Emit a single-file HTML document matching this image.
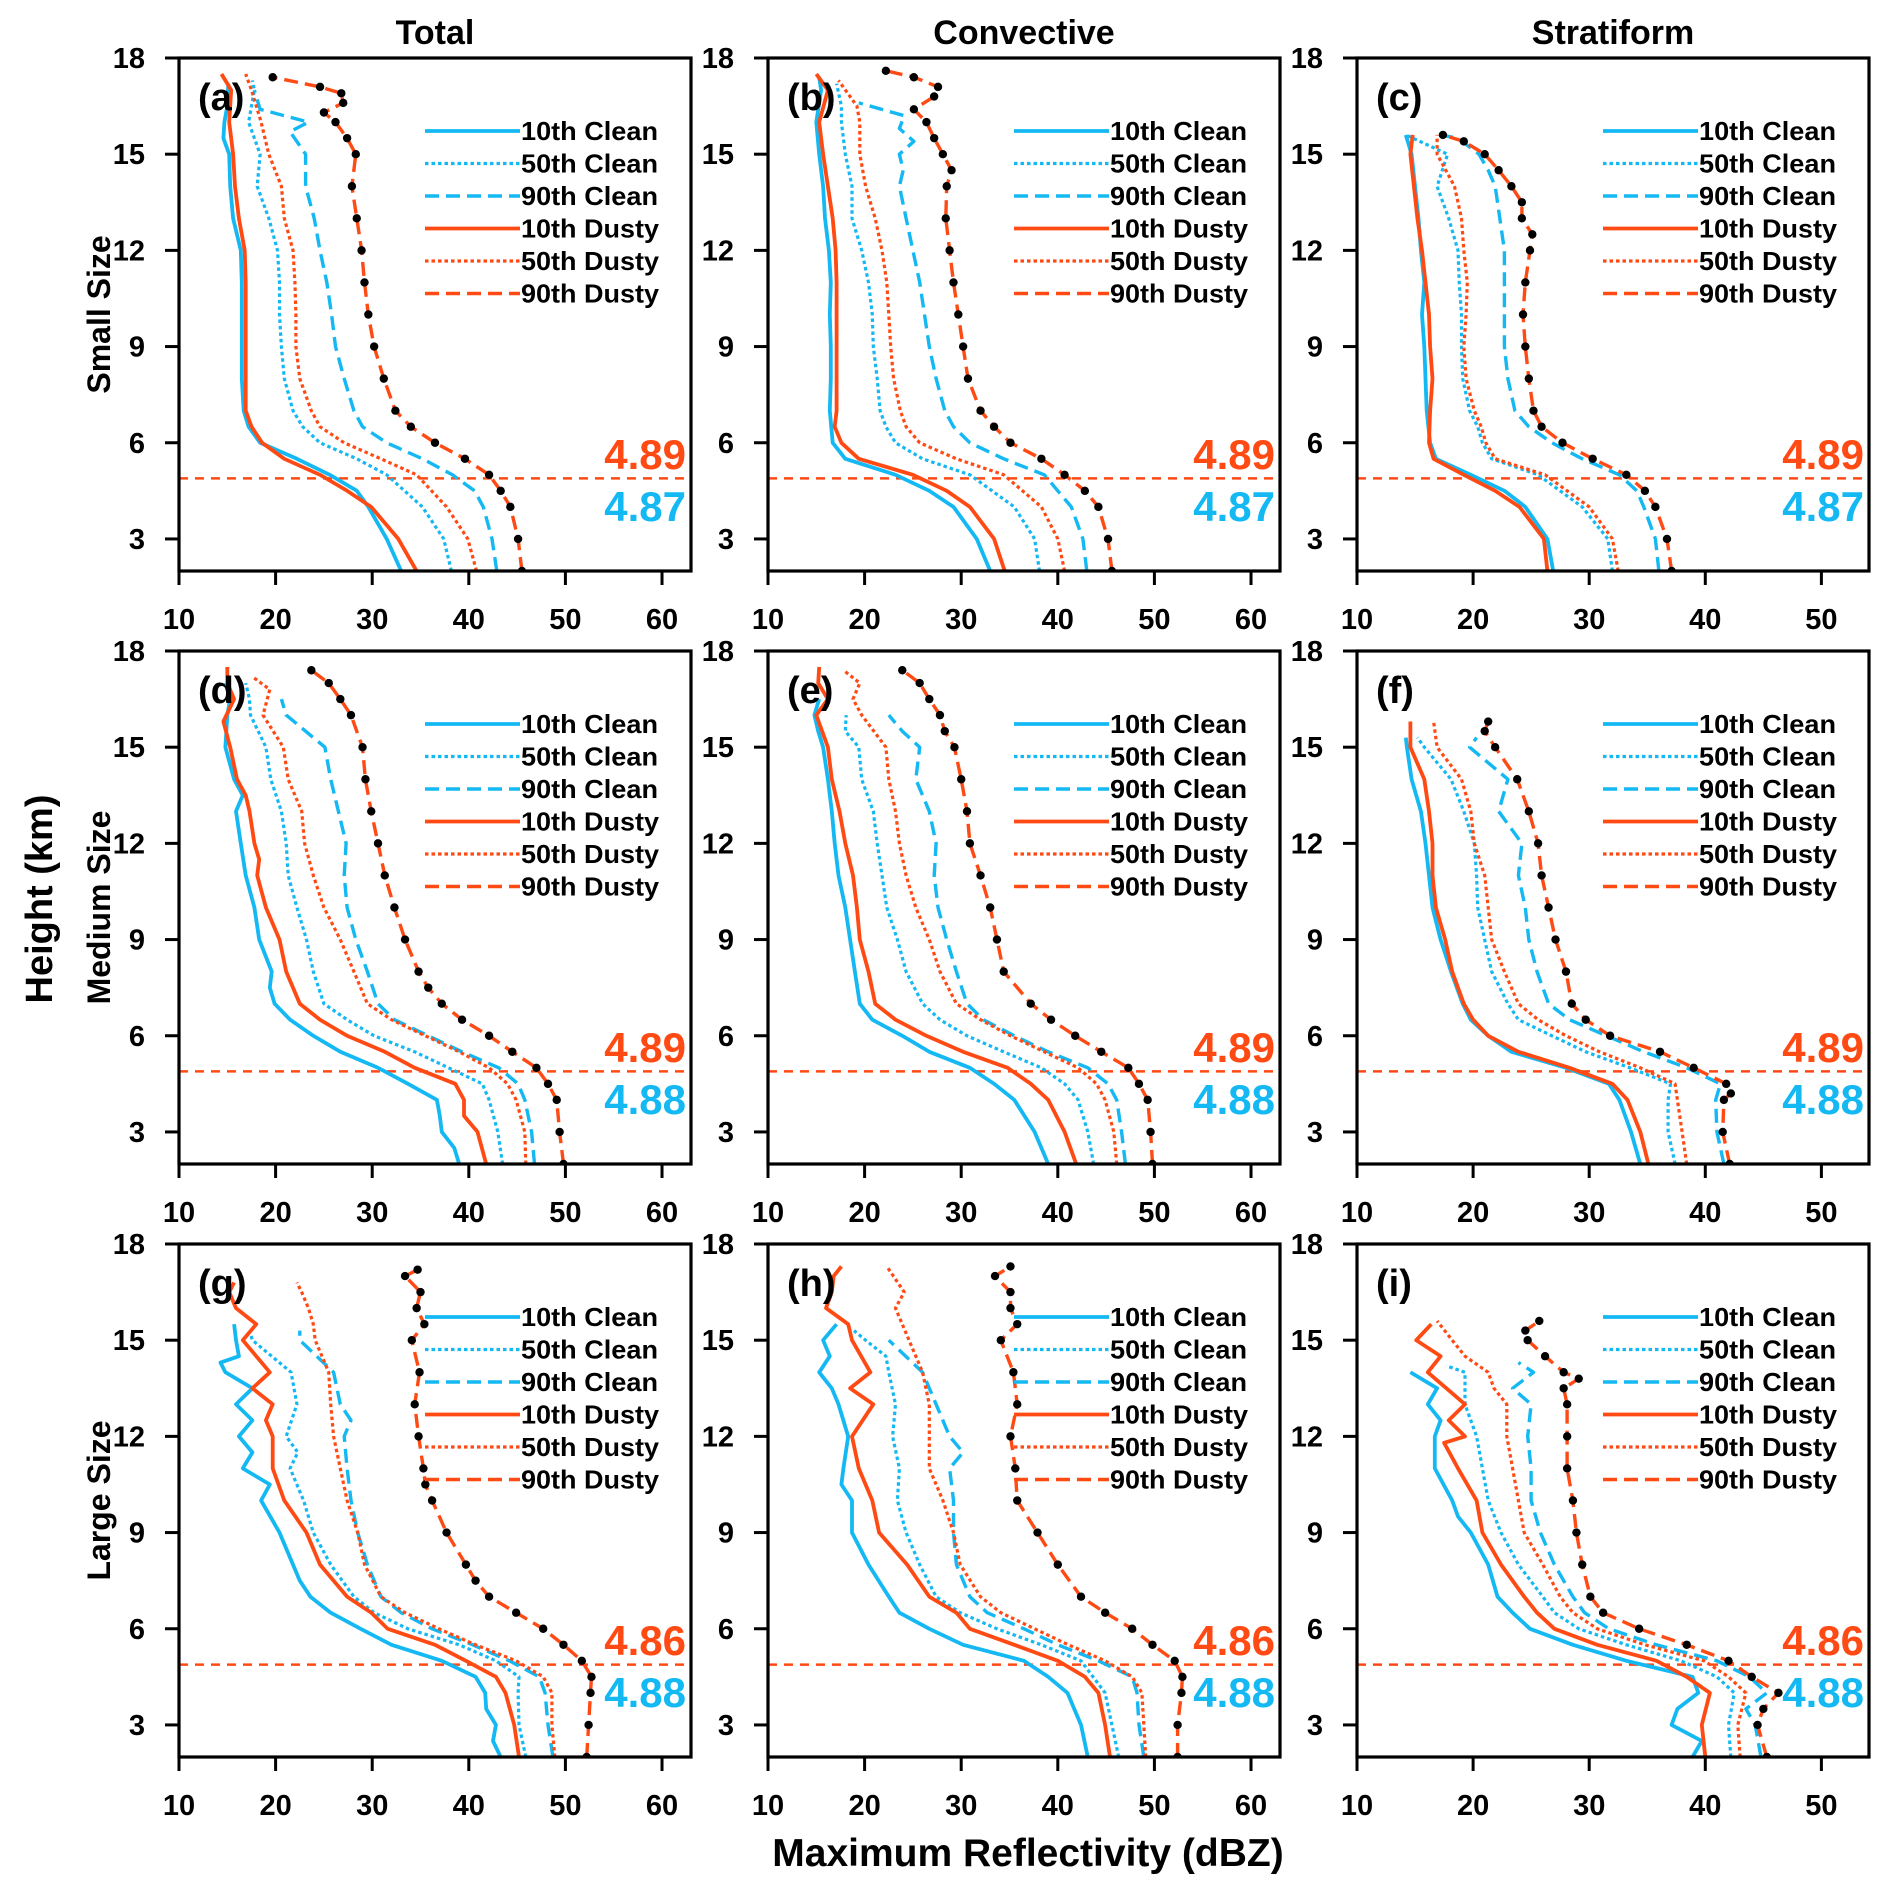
<!DOCTYPE html>
<html><head><meta charset="utf-8"><style>
html,body{margin:0;padding:0;background:#fff;}
svg{display:block;}
text{font-family:"Liberation Sans",Arial,sans-serif;font-weight:bold;}
</style></head><body>
<svg id="fig" width="1892" height="1893" viewBox="0 0 1892 1893" xmlns="http://www.w3.org/2000/svg"></svg>
<script>
// ---- data: [height km, dBZ] pairs per series ----
const a_c10=[[2,33.0],[3,31.5],[4,29.6],[4.5,28.4],[5,25.6],[5.5,22.2],[6,18.4],[6.5,17.2],[7,16.7],[8,16.5],[9,16.5],[10,16.5],[11,16.5],[12,16.4],[13,15.6],[14,15.3],[15,15.2],[15.5,14.6],[16,14.7],[16.5,15],[17.2,15.1]];
const a_d10=[[2,34.6],[3,32.7],[4,29.9],[4.5,27.4],[5,24.6],[5.5,20.9],[6,18.6],[6.5,17.5],[7,16.9],[8,16.9],[9,16.9],[10,16.9],[11,16.9],[12,16.8],[13,16.2],[14,15.8],[15,15.6],[16,15.2],[17,15.4],[17.5,14.4]];
const a_c50=[[2,38.2],[3,37.4],[4,35.2],[5,31.5],[5.5,28.4],[6,24.6],[6.5,22.8],[7,21.8],[8,20.9],[9,20.6],[10,20.4],[11,20.4],[12,20.2],[13,19.3],[14,18.1],[15,18.4],[16,17.2],[17,17.8],[17.3,17.6]];
const a_d50=[[2,40.8],[3,39.9],[4,37.7],[5,34.6],[5.5,30.9],[6,27.1],[6.5,24.6],[7,23.7],[8,22.5],[9,22.1],[10,22.1],[11,22.0],[12,21.8],[13,20.9],[14,20.6],[15,19.3],[16,18.5],[17,17.5],[17.5,16.9]];
const a_c90=[[2,42.9],[3,42.4],[4,41.5],[4.5,40.6],[5,38.3],[5.5,35.2],[6,31.5],[6.5,29.0],[7,28.1],[8,27.1],[9,26.2],[10,25.8],[11,25.3],[12,24.6],[13,24.0],[14,23.1],[15,23.1],[15.7,21.5],[16,23.4],[16.4,18.4],[17,17.8]];
const a_d90=[[2,45.5],[3,45.1],[4,44.3],[4.5,43.3],[5,42.1],[5.5,39.6],[6,36.5],[6.5,34.0],[7,32.4],[8,31.2],[9,30.2],[10,29.6],[11,29.2],[12,28.9],[13,28.4],[14,27.9],[15,28.3],[15.5,27.4],[16,26.2],[16.3,25.0],[16.6,27.0],[16.9,26.8],[17.1,24.6],[17.4,19.7]];

const b_c10=[[2,33.0],[3,31.6],[4,29.2],[4.5,26.7],[5,23.2],[5.5,18.0],[6,16.7],[7,16.4],[8,16.5],[9,16.5],[10,16.4],[11,16.5],[12,16.3],[13,15.9],[14,15.7],[15,15.3],[16,15.0],[17,15.5],[17.4,15.3]];
const b_d10=[[2,34.5],[3,33.4],[4,30.9],[4.5,28.5],[5,25.0],[5.5,19.4],[6,17.6],[6.5,16.9],[7,17.1],[8,17.1],[9,17.1],[10,17.1],[11,17.1],[12,17.0],[13,16.7],[14,16.2],[15,15.7],[16,15.3],[17,16.2],[17.5,15.0]];
const b_c50=[[2,38.1],[3,37.6],[4,35.5],[5,30.9],[5.5,26.0],[6,23.2],[6.5,22.2],[7,21.6],[8,21.3],[9,20.9],[10,20.8],[11,20.4],[12,19.7],[13,18.7],[14,18.7],[15,18.0],[16,17.6],[16.5,17.6],[17.2,17.1]];
const b_d50=[[2,40.7],[3,40.0],[4,38.3],[5,34.4],[5.5,29.5],[6,25.7],[6.5,24.3],[7,23.7],[8,23.0],[9,22.7],[10,22.5],[11,22.3],[12,21.8],[13,21.1],[14,20.1],[15,19.5],[16,19.5],[16.5,19.2],[17.3,17.3]];
const b_c90=[[2,43.0],[3,42.6],[4,41.4],[5,38.6],[5.5,34.4],[6,30.9],[6.5,29.2],[7,28.3],[8,27.4],[9,26.7],[10,26.2],[11,25.7],[12,25.0],[13,24.3],[14,23.6],[14.5,24.0],[15,23.6],[15.4,25.1],[15.8,23.6],[16.2,24.1],[16.6,19.4]];
const b_d90=[[2,45.6],[3,45.2],[4,44.2],[4.5,42.8],[5,40.7],[5.5,38.3],[6,35.1],[6.5,33.4],[7,32.0],[8,30.7],[9,30.2],[10,29.7],[11,29.2],[12,28.8],[13,28.4],[14,28.5],[14.5,29.0],[15,28.1],[15.5,27.2],[16,26.4],[16.4,25.1],[16.8,27.2],[17.1,27.6],[17.4,25.1],[17.6,22.2]];

const c_c10=[[2,26.9],[3,26.4],[4,24.5],[4.5,22.7],[5,19.8],[5.5,16.8],[6,16.3],[7,16.0],[8,15.9],[9,15.8],[10,15.6],[11,15.8],[12,15.5],[13,15.3],[14,15.0],[15,14.7],[15.6,14.2]];
const c_d10=[[2,26.4],[3,26.1],[4,24.0],[4.5,21.9],[5,19.2],[5.5,16.6],[6,16.2],[7,16.3],[8,16.5],[9,16.3],[10,16.2],[11,15.9],[12,15.6],[13,15.2],[14,14.9],[15,14.6],[15.6,14.8]];
const c_c50=[[2,32.0],[3,31.6],[4,29.4],[5,25.6],[5.5,21.6],[6,20.8],[6.5,20.4],[7,19.7],[8,19.1],[9,19.0],[10,19.0],[11,18.8],[12,18.7],[13,17.9],[14,16.9],[15,17.8],[15.6,14.2]];
const c_d50=[[2,32.5],[3,32.0],[4,30.0],[5,26.2],[5.5,21.9],[6,21.1],[6.5,20.7],[7,20.1],[8,19.4],[9,19.2],[10,19.4],[11,19.5],[12,19.2],[13,19.0],[14,18.4],[15,16.9],[15.6,16.9]];
const c_c90=[[2,36.0],[3,35.7],[4,34.7],[4.5,34.1],[5,32.6],[5.5,29.4],[6,26.8],[6.5,24.8],[7,23.6],[8,23.0],[9,22.7],[10,22.7],[11,22.7],[12,22.7],[13,22.3],[14,21.9],[14.5,21.3],[15,20.5],[15.5,18.7],[15.6,17.2]];
const c_d90=[[2,37.1],[3,36.7],[4,35.7],[4.5,34.8],[5,33.2],[5.5,30.3],[6,27.7],[6.5,25.9],[7,25.2],[8,24.8],[9,24.5],[10,24.3],[11,24.5],[12,24.9],[12.5,25.1],[13,24.2],[13.5,24.2],[14,23.3],[14.5,22.2],[15,21.0],[15.4,19.2],[15.6,17.4]];

const d_c10=[[2,39.0],[2.5,38.5],[3,37.2],[3.5,37.0],[4,36.7],[4.5,33.7],[5,30.6],[5.5,26.7],[6,23.9],[6.5,21.5],[7,19.9],[7.5,19.4],[8,19.6],[9,18.3],[10,17.8],[11,16.9],[12,16.4],[13,15.9],[13.5,16.6],[14,15.7],[15,14.8],[16,15.0],[16.5,15.3],[17,14.8]];
const d_d10=[[2,41.8],[3,40.9],[3.5,39.5],[4,39.5],[4.5,38.6],[5,34.4],[5.5,31.3],[6,27.4],[6.5,24.6],[7,22.5],[8,21.1],[9,20.4],[10,19.0],[11,18.1],[11.5,18.3],[12,17.8],[13,17.3],[13.5,16.9],[14,16.0],[15,15.3],[15.8,14.6],[16.5,15.7],[17,15.0],[17.5,15.0]];
const d_c50=[[2,43.5],[3,43.0],[4,42.1],[4.5,41.4],[5,37.9],[5.5,34.4],[6,30.2],[6.5,27.4],[7,25.0],[8,23.9],[9,23.2],[10,22.2],[11,21.3],[12,21.1],[13,20.6],[14,19.5],[15,19.0],[16,17.4],[16.5,17.3],[17,16.9]];
const d_d50=[[2,45.9],[3,45.8],[4,44.9],[4.5,44.0],[5,42.1],[5.5,39.0],[6,35.5],[6.5,32.0],[7,29.5],[8,28.1],[9,26.7],[10,25.0],[11,23.9],[12,23.0],[13,22.7],[14,21.3],[15,20.8],[16,18.7],[16.8,19.4],[17.2,17.6]];
const d_c90=[[2,46.8],[3,46.5],[4,45.8],[4.5,45.1],[5,43.1],[5.5,39.3],[6,35.8],[6.5,32.3],[7,30.6],[8,29.5],[9,28.3],[10,27.4],[11,27.1],[12,27.3],[13,26.5],[14,25.7],[15,25.1],[16,21.1],[16.5,20.6]];
const d_d90=[[2,49.8],[3,49.4],[4,49.1],[4.5,48.2],[5,47.0],[5.5,44.5],[6,42.1],[6.5,39.3],[7,37.2],[7.5,35.8],[8,34.8],[9,33.4],[10,32.3],[11,31.3],[12,30.6],[13,29.9],[14,29.3],[15,29.0],[16,27.8],[16.5,26.7],[17,25.5],[17.4,23.7]];

const e_c10=[[2,39.0],[3,37.6],[4,35.5],[4.5,33.4],[5,30.9],[5.5,26.7],[6,23.9],[6.5,20.8],[7,19.5],[8,19.0],[9,18.5],[10,18.0],[11,17.3],[12,16.9],[13,16.6],[14,16.2],[15,15.7],[15.5,15.2],[16,14.8],[16.5,15.3]];
const e_d10=[[2,41.9],[3,40.7],[4,39.0],[4.5,37.2],[5,34.8],[5.5,30.2],[6,26.4],[6.5,23.2],[7,21.1],[8,20.4],[9,19.5],[10,19.2],[11,18.8],[12,18.0],[13,17.4],[14,16.6],[15,16.2],[16,15.0],[16.5,16.2],[17,15.2],[17.5,15.3]];
const e_c50=[[2,43.7],[3,43.1],[4,42.1],[4.5,40.7],[5,38.3],[5.5,34.4],[6,30.6],[6.5,27.8],[7,26.0],[8,24.3],[9,23.4],[10,22.3],[11,21.8],[12,21.3],[13,20.9],[14,19.7],[15,19.4],[15.5,18.0],[16,18.1]];
const e_d50=[[2,46.1],[3,45.8],[4,44.9],[4.5,44.0],[5,42.1],[5.5,38.6],[6,35.1],[6.5,32.0],[7,29.5],[8,27.8],[9,26.7],[10,25.3],[11,24.3],[12,23.6],[13,23.2],[14,22.5],[15,22.2],[16,19.7],[16.5,18.8],[17,19.5],[17.4,17.8]];
const e_c90=[[2,47.0],[3,46.6],[4,46.1],[4.5,45.2],[5,43.1],[5.5,39.0],[6,35.5],[6.5,32.3],[7,30.6],[8,29.5],[9,28.5],[10,27.6],[11,27.2],[12,27.4],[13,26.7],[14,25.3],[15,25.7],[15.5,23.9],[16,22.5]];
const e_d90=[[2,49.8],[3,49.6],[4,49.3],[4.5,48.4],[5,47.3],[5.5,44.5],[6,41.8],[6.5,39.3],[7,37.2],[8,34.4],[9,33.7],[10,33.0],[11,32.0],[12,30.9],[13,30.6],[14,30.0],[15,29.3],[15.5,28.3],[16,27.8],[16.5,26.7],[17,25.7],[17.4,23.9]];

const f_c10=[[2,34.4],[3,33.6],[4,32.6],[4.5,31.7],[5,28.0],[5.5,23.3],[6,21.3],[6.5,19.8],[7,19.1],[8,18.1],[9,17.2],[10,16.5],[11,16.2],[12,15.9],[13,15.5],[14,14.7],[15,14.3],[15.3,14.2]];
const f_d10=[[2,35.1],[3,34.4],[4,33.3],[4.5,32.0],[5,28.3],[5.5,23.9],[6,21.3],[6.5,20.0],[7,19.2],[8,18.2],[9,17.6],[10,16.8],[11,16.5],[12,16.5],[13,16.2],[14,15.8],[15,14.6],[15.8,14.6]];
const f_c50=[[2,37.4],[3,36.8],[4,36.8],[4.5,37.0],[5,33.5],[5.5,29.7],[6,26.8],[6.5,23.9],[7,23.0],[8,21.6],[9,21.0],[10,20.4],[11,20.3],[12,20.1],[13,19.2],[14,18.1],[15,15.8],[15.3,15.2]];
const f_d50=[[2,38.4],[3,38.0],[4,37.6],[4.5,37.4],[5,34.4],[5.5,30.9],[6,28.0],[6.5,25.6],[7,23.9],[8,22.7],[9,21.6],[10,21.3],[11,21.0],[12,20.1],[13,19.8],[14,19.0],[15,16.9],[15.8,16.6]];
const f_c90=[[2,41.6],[3,41.0],[4,40.9],[4.5,41.3],[5,38.4],[5.5,34.7],[6,31.5],[6.5,28.3],[7,26.5],[8,25.5],[9,24.8],[10,24.5],[11,23.9],[12,24.2],[13,22.2],[14,23.0],[15,19.7],[15.3,20.3]];
const f_d90=[[2,42.1],[3,41.5],[4,41.6],[4.2,42.2],[4.5,41.8],[5,39.0],[5.5,36.1],[6,31.8],[6.5,29.7],[7,28.5],[8,28.0],[9,27.1],[10,26.5],[11,25.9],[12,25.6],[13,24.8],[14,23.8],[15,21.9],[15.5,21.0],[15.8,21.3]];

const g_c10=[[2,43.3],[2.5,42.5],[3,42.8],[3.5,41.8],[4,41.7],[4.5,40.7],[5,37.2],[5.5,32.0],[6,28.8],[6.5,25.7],[7,23.6],[7.5,22.5],[8,21.8],[9,20.4],[10,18.5],[10.5,19.4],[11,16.6],[11.5,17.6],[12,16.2],[12.5,17.6],[13,15.9],[13.5,17.6],[14,14.8],[14.3,14.3],[14.5,16.2],[15,15.9],[15.5,15.7]];
const g_d10=[[2,45.2],[3,44.7],[4,43.8],[4.5,42.8],[5,39.7],[5.5,36.5],[6,31.6],[6.5,29.9],[7,27.4],[8,24.6],[9,23.2],[10,20.9],[11,19.7],[12,19.7],[12.5,19.0],[13,19.7],[13.5,17.6],[14,19.4],[15,16.6],[15.5,18.0],[16,15.9],[16.5,15.2],[16.8,15.7]];
const g_c50=[[2,45.9],[3,45.2],[4,45.1],[4.5,45.2],[5,42.8],[5.5,39.0],[6,33.7],[6.5,30.2],[7,28.1],[8,25.7],[9,23.9],[10,22.9],[11,21.5],[11.5,22.3],[12,21.1],[13,22.2],[14,21.6],[15,17.6],[15.3,17.3]];
const g_d50=[[2,48.9],[3,48.6],[4,48.6],[4.5,47.7],[5,44.9],[5.5,40.7],[6,36.9],[6.5,33.4],[7,30.9],[8,29.2],[9,28.5],[10,27.4],[11,26.7],[12,26.0],[13,25.7],[14,25.5],[15,24.1],[15.5,23.9],[16,23.4],[16.5,22.7],[16.8,22.2]];
const g_c90=[[2,48.7],[3,48.2],[4,47.9],[4.5,47.3],[5,44.2],[5.5,40.4],[6,36.2],[6.5,33.0],[7,30.9],[8,29.5],[9,28.5],[10,27.8],[11,27.4],[12,27.1],[12.5,27.8],[13,26.7],[14,26.0],[15,22.5],[15.3,22.5]];
const g_d90=[[2,52.2],[3,52.4],[4,52.6],[4.5,52.7],[5,51.7],[5.5,49.8],[6,47.7],[6.5,44.9],[7,42.1],[7.5,40.7],[8,39.7],[9,37.7],[10,36.2],[10.5,35.5],[11,35.3],[12,34.8],[13,34.4],[14,34.9],[15,34.1],[15.5,35.4],[16,34.6],[16.5,35.0],[17,33.4],[17.2,34.7]];

const h_c10=[[2,43.1],[3,42.4],[3.5,41.7],[4,41.0],[4.5,39.0],[5,36.5],[5.5,30.2],[6,26.7],[6.5,23.6],[7,22.5],[8,20.4],[9,18.7],[10,18.7],[10.5,17.6],[11,17.8],[12,18.3],[13,17.3],[13.5,16.6],[14,15.3],[14.5,16.4],[15,15.7],[15.5,17.1]];
const h_d10=[[2,45.4],[3,44.9],[4,44.2],[4.5,42.8],[5,40.0],[5.5,35.5],[6,30.9],[6.5,29.5],[7,26.7],[8,24.4],[9,21.5],[10,20.8],[11,19.4],[12,18.7],[13,20.9],[13.5,18.5],[14,20.6],[15,18.7],[15.5,18.3],[16,16.0],[16.5,16.6],[17,16.8],[17.3,17.6]];
const h_c50=[[2,46.3],[3,45.6],[4,44.9],[5,42.4],[5.5,38.3],[6,33.7],[6.5,29.9],[7,27.4],[8,25.7],[9,24.3],[10,23.4],[11,23.6],[12,22.9],[13,23.2],[14,22.5],[14.5,22.2],[15,20.1],[15.3,18.9]];
const h_d50=[[2,49.1],[3,48.9],[4,48.7],[4.5,47.7],[5,44.9],[5.5,41.1],[6,37.6],[6.5,34.1],[7,32.0],[8,29.9],[9,29.2],[10,28.1],[11,26.7],[12,26.7],[13,26.7],[14,26.0],[15,24.6],[16,23.2],[16.5,24.1],[17.3,22.3]];
const h_c90=[[2,48.9],[3,48.4],[4,48.2],[4.5,47.7],[5,44.2],[5.5,40.0],[6,36.5],[6.5,32.7],[7,30.9],[8,29.5],[9,29.2],[10,29.2],[11,28.8],[11.5,30.2],[12,28.8],[13,27.4],[14,26.0],[15,22.5]];
const h_d90=[[2,52.4],[3,52.4],[4,52.8],[4.5,52.9],[5,52.1],[5.5,49.8],[6,47.7],[6.5,44.9],[7,42.4],[8,40.0],[9,37.9],[10,35.8],[11,35.6],[12,35.1],[13,35.8],[14,35.4],[15,34.1],[15.5,35.8],[16,35.1],[16.5,35.1],[17,33.5],[17.3,35.1]];

const i_c10=[[2,38.9],[2.5,39.7],[3,37.1],[3.5,37.6],[4,39.4],[4.5,38.9],[5,33.2],[5.5,28.6],[6,24.9],[6.5,23.4],[7,22.1],[8,21.3],[9,19.8],[9.5,18.7],[10,18.2],[11,16.7],[12,16.7],[12.5,17.2],[13,16.1],[13.5,16.9],[14,14.6]];
const i_d10=[[2,40.0],[3,39.7],[4,40.4],[4.5,38.4],[5,35.8],[5.5,30.7],[6,27.0],[6.5,25.5],[7,24.4],[8,22.4],[9,20.8],[10,20.3],[11,18.7],[11.8,17.5],[12,19.3],[12.5,17.9],[13,19.3],[13.5,17.7],[14,16.1],[14.5,17.2],[15,15.1],[15.5,16.4]];
const i_c50=[[2,42.2],[3,42.0],[4,42.5],[4.5,41.0],[5,37.9],[5.5,33.2],[6,29.1],[6.5,27.0],[7,26.0],[8,23.9],[9,22.4],[10,21.3],[11,20.8],[12,20.3],[13,19.3],[14,19.3],[14.2,17.7]];
const i_d50=[[2,43.0],[3,42.8],[4,43.5],[4.5,42.0],[5,39.9],[5.5,34.8],[6,30.7],[6.5,28.6],[7,27.5],[8,26.0],[9,24.4],[10,23.9],[11,23.4],[12,22.9],[13,22.9],[13.5,21.8],[14,21.3],[14.5,19.3],[15,18.2],[15.6,16.9]];
const i_c90=[[2,44.8],[3,44.3],[3.5,43.5],[4,45.3],[4.5,43.8],[5,41.0],[5.5,35.8],[6,31.7],[6.5,29.6],[7,28.6],[8,27.0],[9,25.8],[10,25.0],[11,25.0],[12,24.7],[13,25.0],[13.5,23.4],[14,25.2],[14.3,23.9]];
const i_d90=[[2,45.3],[3,44.5],[3.5,45.0],[4,46.3],[4.5,44.0],[5,42.0],[5.5,38.4],[6,34.3],[6.5,31.2],[7,30.1],[8,29.4],[9,28.9],[10,28.6],[11,28.1],[12,28.1],[13,28.1],[13.5,27.8],[13.8,29.1],[14,27.8],[14.5,26.2],[15,24.7],[15.3,24.5],[15.6,25.7]];

const panelLetters=["a","b","c","d","e","f","g","h","i"];
const columnTitles=["Total","Convective","Stratiform"];
const rowTitles=["Small Size","Medium Size","Large Size"];
const freezeLevels=[4.89,4.89,4.89,4.89,4.89,4.89,4.88,4.88,4.88];
const dustyLabels=["4.89","4.89","4.89","4.89","4.89","4.89","4.86","4.86","4.86"];
const cleanLabels=["4.87","4.87","4.87","4.88","4.88","4.88","4.88","4.88","4.88"];
const xMaxByCol=[63,63,54.1];
const xTicksByCol=[[10,20,30,40,50,60],[10,20,30,40,50,60],[10,20,30,40,50]];
const yTicks=[3,6,9,12,15,18];
const seriesNames=["10th Clean","50th Clean","90th Clean","10th Dusty","50th Dusty","90th Dusty"];
const panelSeries={
 a:[a_c10,a_c50,a_c90,a_d10,a_d50,a_d90], b:[b_c10,b_c50,b_c90,b_d10,b_d50,b_d90], c:[c_c10,c_c50,c_c90,c_d10,c_d50,c_d90],
 d:[d_c10,d_c50,d_c90,d_d10,d_d50,d_d90], e:[e_c10,e_c50,e_c90,e_d10,e_d50,e_d90], f:[f_c10,f_c50,f_c90,f_d10,f_d50,f_d90],
 g:[g_c10,g_c50,g_c90,g_d10,g_d50,g_d90], h:[h_c10,h_c50,h_c90,h_d10,h_d50,h_d90], i:[i_c10,i_c50,i_c90,i_d10,i_d50,i_d90]};

const BLUE="#14B8F2", ORANGE="#FF4A14";
const styles=[
 {c:BLUE,w:3.8,d:null},{c:BLUE,w:3.2,d:"3.5 3"},{c:BLUE,w:3.4,d:"14 7"},
 {c:ORANGE,w:3.8,d:null},{c:ORANGE,w:3.2,d:"3.5 3"},{c:ORANGE,w:3.4,d:"14 7"}];
const lefts=[179,768,1357], tops=[58,651,1244], PW=512, PH=513, YMIN=2, YMAX=18;
const svg=document.getElementById('fig'), NS="http://www.w3.org/2000/svg";
function mk(tag,attrs,parent){const e=document.createElementNS(NS,tag);for(const k in attrs)e.setAttribute(k,attrs[k]);(parent||svg).appendChild(e);return e;}
function txt(s,attrs,parent){const e=mk('text',attrs,parent);e.textContent=s;return e;}

columnTitles.forEach((t,c)=>{const e=txt(t,{x:lefts[c]+PW/2,y:44,'font-size':34,'text-anchor':'middle'});
 
 });
rowTitles.forEach((t,r)=>{const cy=tops[r]+PH/2;const e=txt(t,{x:0,y:0,'font-size':32,'text-anchor':'middle',transform:`translate(110,${cy}) rotate(-90)`});
 
 });
{const e=txt("Height (km)",{x:0,y:0,'font-size':38,'text-anchor':'middle',transform:'translate(52,899) rotate(-90)'});
 
 }
{const e=txt("Maximum Reflectivity (dBZ)",{x:1028,y:1866,'font-size':39,'text-anchor':'middle'});
 
 }

panelLetters.forEach((L,idx)=>{
 const r=Math.floor(idx/3), c=idx%3, x0=lefts[c], y0=tops[r], xmax=xMaxByCol[c];
 const sx=v=>x0+(v-10)/(xmax-10)*PW, sy=h=>y0+PH-(h-YMIN)/(YMAX-YMIN)*PH;
 const g=mk('g',{});
 
 
 const clipId='clip'+L; const cp=mk('clipPath',{id:clipId},g); mk('rect',{x:x0,y:y0,width:PW,height:PH},cp);
 xTicksByCol[c].forEach(t=>{const X=sx(t);
  const tk=mk('line',{x1:X,y1:y0+PH,x2:X,y2:y0+PH+14,stroke:'#000','stroke-width':3},g);
  
  
  const lb=txt(String(t),{x:X,y:y0+PH+58,'font-size':29,'text-anchor':'middle'},g);
  
  });
 yTicks.forEach(t=>{const Y=sy(t);
  const tk=mk('line',{x1:x0-14,y1:Y,x2:x0,y2:Y,stroke:'#000','stroke-width':3},g);
  
  
  const lb=txt(String(t),{x:x0-34,y:Y+10,'font-size':29,'text-anchor':'end'},g);
  
  });
 const fl=mk('line',{x1:x0,y1:sy(freezeLevels[idx]),x2:x0+PW,y2:sy(freezeLevels[idx]),stroke:ORANGE,'stroke-width':2.5,'stroke-dasharray':'9 7'},g);
 
 
 const lg=mk('g',{'clip-path':`url(#${clipId})`},g);
 panelSeries[L].forEach((s,k)=>{const st=styles[k];
  const p=mk('polyline',{points:s.map(q=>sx(q[1]).toFixed(1)+','+sy(q[0]).toFixed(1)).join(' '),fill:'none',stroke:st.c,'stroke-width':st.w,'stroke-linejoin':'round'},lg);
  if(st.d)p.setAttribute('stroke-dasharray',st.d);
  
  
  if(k===5){s.forEach(q=>{const d=mk('circle',{cx:sx(q[1]),cy:sy(q[0]),r:4.2,fill:'#000'},lg);
   
   });}
 });
 const fr=mk('rect',{x:x0,y:y0,width:PW,height:PH,fill:'none',stroke:'#000','stroke-width':3.2},g);
 
 
 const pl=txt('('+L+')',{x:x0+19,y:y0+52,'font-size':38},g);
 
 
 seriesNames.forEach((n,k)=>{const st=styles[k]; const Y=y0+73+k*32.5;
  const ll=mk('line',{x1:x0+246,y1:Y,x2:x0+341,y2:Y,stroke:st.c,'stroke-width':st.w},g);
  if(st.d)ll.setAttribute('stroke-dasharray',st.d);
  
  
  const lt=txt(n,{x:x0+342,y:Y+9,'font-size':26,textLength:137,lengthAdjust:'spacingAndGlyphs'},g);
  if(n.indexOf('Dusty')>=0)lt.setAttribute('textLength',138);
  
  });
 const n1=txt(dustyLabels[idx],{x:x0+PW-5,y:y0+411,'font-size':42,'text-anchor':'end',fill:ORANGE},g);
 
 
 const n2=txt(cleanLabels[idx],{x:x0+PW-5,y:y0+463,'font-size':42,'text-anchor':'end',fill:BLUE},g);
 
 
});
</script>
</body></html>
